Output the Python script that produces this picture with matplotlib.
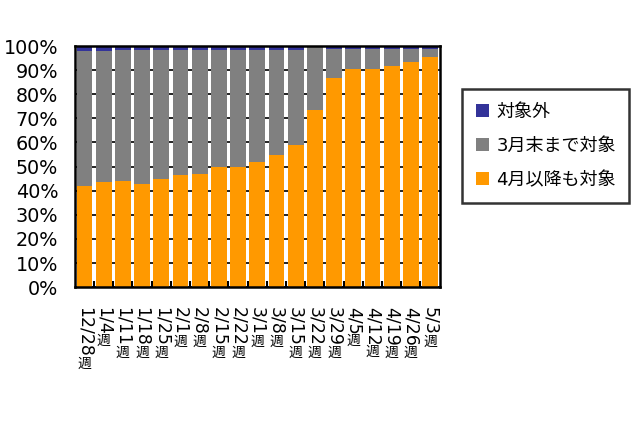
import numpy as np
import matplotlib
matplotlib.use('Agg')
import matplotlib.pyplot as plt
from matplotlib.patches import Patch

plt.rcParams['font.family'] = ['DejaVu Sans', 'Noto Sans CJK JP']

# 週 (week start dates)
weeks = ['12/28', '1/4', '1/11', '1/18', '1/25', '2/1', '2/8', '2/15', '2/22',
         '3/1', '3/8', '3/15', '3/22', '3/29', '4/5', '4/12', '4/19', '4/26', '5/3']

# shares in %
after_april = [41.9, 43.4, 44.0, 42.6, 44.8, 46.3, 47.0, 49.8, 49.8,
               51.9, 54.6, 58.9, 73.4, 86.9, 90.5, 90.5, 91.7, 93.4, 95.6]
not_covered = [2.2, 2.2, 1.7, 1.7, 1.7, 1.7, 1.7, 1.7, 1.7,
               1.7, 1.7, 1.7, 0.0, 1.3, 1.3, 1.3, 1.3, 1.3, 1.3]
until_march = [100 - a - b for a, b in zip(after_april, not_covered)]

c_orange = '#FF9900'
c_gray = '#808080'
c_blue = '#333399'

fig = plt.figure(figsize=(6.4, 4.26), dpi=100)
ax = fig.add_axes([0.117, 0.326, 0.570, 0.566])

x = np.arange(len(weeks))
w = 0.82
ax.bar(x, after_april, w, color=c_orange, zorder=2)
ax.bar(x, until_march, w, bottom=after_april, color=c_gray, zorder=2)
ax.bar(x, not_covered, w, bottom=np.add(after_april, until_march), color=c_blue, zorder=2)

ax.set_xlim(-0.5, len(weeks) - 0.5)
ax.set_ylim(0, 100)
ax.set_yticks(np.arange(0, 101, 10))
ax.set_yticklabels(['%d%%' % v for v in range(0, 101, 10)], fontsize=13.8)
ax.yaxis.grid(True, color='black', linewidth=1.2, zorder=1)
ax.set_axisbelow(True)
ax.tick_params(axis='y', length=0, pad=12)

# minor ticks between categories, pointing inward
ax.set_xticks(x[:-1] + 0.5, minor=True)
ax.tick_params(axis='x', which='minor', direction='in', length=4, width=1.5, color='black')
ax.set_xticks(x)
ax.set_xticklabels(weeks, rotation=270, fontsize=12.5, va='top', ha='center')
ax.tick_params(axis='x', which='major', length=0, pad=14)

for s in ax.spines.values():
    s.set_linewidth(1.8)
    s.set_color('black')

fig.canvas.draw()
for lab in ax.get_xticklabels():
    ax.annotate('週', xy=(0.5, 0), xycoords=lab, xytext=(0, 0),
                textcoords='offset points', ha='center', va='top', fontsize=10)

handles = [Patch(facecolor=c_blue), Patch(facecolor=c_gray), Patch(facecolor=c_orange)]
labels = ['対象外', '3月末まで対象', '4月以降も対象']
leg = fig.legend(handles, labels, loc='upper left', bbox_to_anchor=(0.722, 0.791),
                 bbox_transform=fig.transFigure, borderaxespad=0, fontsize=13,
                 frameon=True, fancybox=False, edgecolor='black',
                 handlelength=0.75, handleheight=0.75, handletextpad=0.4,
                 labelspacing=0.9, borderpad=0.75)
leg.get_frame().set_linewidth(1.8)

fig.savefig('out.png', dpi=100)
